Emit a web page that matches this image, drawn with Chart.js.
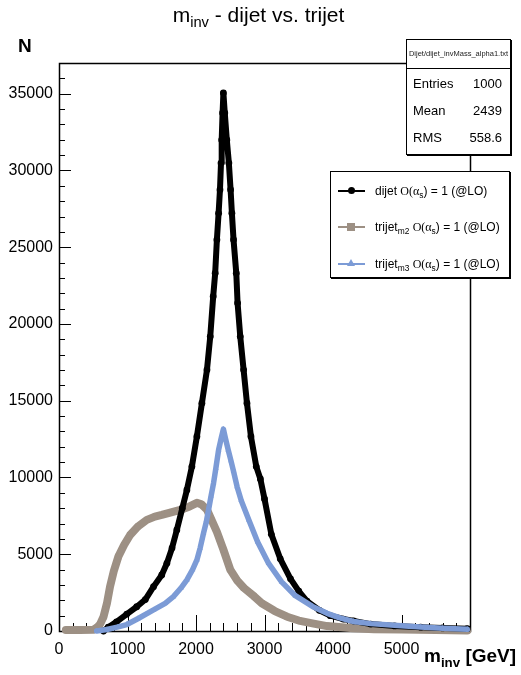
<!DOCTYPE html>
<html>
<head>
<meta charset="utf-8">
<title>m_inv - dijet vs. trijet</title>
<script src="https://cdn.jsdelivr.net/npm/chart.js@4.4.1/dist/chart.umd.min.js"></script>
<style>
  html, body { margin: 0; padding: 0; background: #fff; }
  body { width: 521px; height: 675px; position: relative; overflow: hidden;
         font-family: "Liberation Sans", Arial, Helvetica, sans-serif; color: #000; }
  #plot { position: absolute; left: 0; top: 0; }
  .txt { position: absolute; white-space: nowrap; }
  .serif { font-family: "Liberation Serif", "Times New Roman", serif; }
  sub { font-size: 70%; vertical-align: -0.35em; line-height: 0; }
  #title { left: 0; top: 3px; width: 517px; text-align: center; font-size: 21px; line-height: 24px; }
  #ytitle { left: 18px; top: 36px; font-size: 19px; line-height: 19px; font-weight: bold; }
  #xtitle { left: 424px; top: 646px; font-size: 19px; line-height: 20px; font-weight: bold; }
  .box { position: absolute; background: #fff; border: 1px solid #000; box-shadow: 1px 1px 0 #000; z-index: 2; }
  #stats { left: 406px; top: 39px; width: 103px; height: 114px; }
  #stats .head { position: absolute; left: 0; top: 0; width: 103px; height: 28px; border-bottom: 1px solid #000;
                 font-size: 7.5px; line-height: 28px; text-align: center; color: #222; }
  #stats .row { position: absolute; left: 6px; width: 89px; font-size: 13px; line-height: 16px; }
  #stats .row span { position: absolute; right: 0; }
  #legend { left: 330px; top: 171px; width: 178px; height: 105px; }
  .entry { position: absolute; left: 0; height: 20px; width: 178px; }
  .entry .line { position: absolute; left: 7px; top: 9px; width: 27px; height: 2px; }
  .entry .mark { position: absolute; }
  .entry .label { position: absolute; left: 44px; top: 2px; font-size: 12px; line-height: 16px; }
</style>
</head>
<body>
<canvas id="plot" width="521" height="675"></canvas>

<div class="txt" id="title">m<sub>inv</sub> - dijet vs. trijet</div>
<div class="txt" id="ytitle">N</div>
<div class="txt" id="xtitle">m<sub>inv</sub> [GeV]</div>

<div class="box" id="stats">
  <div class="head">Dijet/dijet_invMass_alpha1.txt</div>
  <div class="row" style="top:36px">Entries<span>1000</span></div>
  <div class="row" style="top:63px">Mean<span>2439</span></div>
  <div class="row" style="top:90px">RMS<span>558.6</span></div>
</div>

<div class="box" id="legend">
  <div class="entry" style="top:9px">
    <div class="line" style="background:#000"></div>
    <div class="mark" style="left:17px;top:6px;width:7px;height:7px;border-radius:50%;background:#000"></div>
    <div class="label">dijet <span class="serif">O(α</span><sub>s</sub>) = 1 (@LO)</div>
  </div>
  <div class="entry" style="top:45px">
    <div class="line" style="background:#9d9084"></div>
    <div class="mark" style="left:16px;top:6px;width:8px;height:8px;background:#9d9084"></div>
    <div class="label">trijet<sub>m2</sub> <span class="serif">O(α</span><sub>s</sub>) = 1 (@LO)</div>
  </div>
  <div class="entry" style="top:82px">
    <div class="line" style="background:#7c9bd6"></div>
    <div class="mark" style="left:16px;top:5px;width:0;height:0;border-left:4px solid transparent;border-right:4px solid transparent;border-bottom:7px solid #7c9bd6"></div>
    <div class="label">trijet<sub>m3</sub> <span class="serif">O(α</span><sub>s</sub>) = 1 (@LO)</div>
  </div>
</div>

<script>
// invariant mass spectra, m_inv in GeV, entries per bin
const dijetMass   = [650, 720, 840, 990, 1135, 1260, 1380, 1500, 1575, 1650, 1720, 1800, 1867, 1940, 2013, 2086, 2160, 2208, 2251, 2280, 2305, 2330, 2350, 2365, 2375, 2388, 2400, 2420, 2450, 2480, 2505, 2524, 2548, 2588, 2607, 2646, 2695, 2744, 2802, 2880, 2940, 3000, 3100, 3230, 3380, 3500, 3620, 3800, 3960, 4150, 4300, 4550, 4900, 5280, 5600, 5960];
const dijetCounts = [0, 250, 600, 1100, 1580, 2050, 2890, 3650, 4410, 5400, 6580, 8000, 9190, 10710, 12670, 14840, 17010, 19180, 21790, 23310, 25490, 27220, 28750, 30480, 31990, 33750, 35050, 33750, 31990, 30480, 28750, 27220, 25490, 23310, 21360, 19180, 17010, 14840, 12670, 10710, 9900, 8600, 6300, 4700, 3400, 2600, 1950, 1350, 1000, 780, 650, 450, 330, 250, 200, 150];

const trijetM2Mass   = [100, 300, 500, 560, 600, 650, 700, 745, 800, 867, 950, 1038, 1150, 1282, 1400, 1500, 1650, 1770, 1900, 2013, 2080, 2160, 2230, 2305, 2400, 2500, 2600, 2700, 2850, 2960, 3150, 3330, 3500, 3718, 3913, 4300, 4600, 5000, 5500, 5960];
const trijetM2Counts = [60, 60, 80, 250, 450, 930, 1800, 2890, 3900, 4850, 5600, 6250, 6800, 7240, 7450, 7560, 7750, 7890, 8100, 8350, 8250, 7900, 7200, 6450, 5300, 4000, 3300, 2800, 2250, 1810, 1300, 930, 680, 480, 320, 180, 120, 90, 60, 40];

const trijetM3Mass   = [550, 700, 850, 990, 1150, 1380, 1550, 1670, 1780, 1867, 1950, 2013, 2060, 2110, 2150, 2183, 2220, 2256, 2290, 2330, 2370, 2400, 2430, 2470, 2510, 2548, 2600, 2660, 2770, 2900, 3060, 3250, 3450, 3700, 3913, 4100, 4300, 4550, 5000, 5280, 5600, 5960];
const trijetM3Counts = [0, 100, 250, 420, 800, 1370, 1800, 2240, 2800, 3330, 4000, 4630, 5400, 6370, 7100, 7890, 8800, 9630, 10600, 11800, 12600, 13150, 12550, 11800, 11100, 10400, 9400, 8500, 7240, 5800, 4400, 3200, 2300, 1600, 1150, 850, 620, 480, 340, 260, 180, 110];

const xTickValues = [0, 1000, 2000, 3000, 4000, 5000, 6000];
const xTickLabels = ['0', '1000', '2000', '3000', '4000', '5000', ''];
const yTickValues = [0, 5000, 10000, 15000, 20000, 25000, 30000, 35000];

const toPoints = (xs, ys) => xs.map((x, i) => ({ x: x, y: ys[i] }));

// ROOT-like frame: inward major/minor ticks on the left and bottom axes
const frameTicks = {
  id: 'frameTicks',
  beforeDatasetsDraw(chart) {
    const { ctx, chartArea: a, scales: { x, y } } = chart;
    ctx.save();
    ctx.strokeStyle = '#000';
    ctx.lineWidth = 1;
    ctx.beginPath();
    for (let v = 0; v <= 6000; v += 200) {
      const px = Math.round(x.getPixelForValue(v)) + 0.5;
      const len = v % 1000 === 0 ? 16 : 8;
      ctx.moveTo(px, a.bottom);
      ctx.lineTo(px, a.bottom - len);
    }
    for (let v = 0; v <= 37000; v += 1000) {
      const py = Math.round(y.getPixelForValue(v)) + 0.5;
      const len = v % 5000 === 0 ? 12 : 6;
      ctx.moveTo(a.left, py);
      ctx.lineTo(a.left + len, py);
    }
    ctx.stroke();
    ctx.lineWidth = 1.5;
    ctx.strokeRect(a.left + 0.5, a.top + 0.5, a.right - a.left, a.bottom - a.top);
    ctx.restore();
  }
};

const tickFont = { family: '"Liberation Sans", Arial, sans-serif', size: 16 };

new Chart(document.getElementById('plot'), {
  type: 'line',
  data: {
    datasets: [
      {
        label: 'dijet',
        data: toPoints(dijetMass, dijetCounts),
        borderColor: '#000',
        backgroundColor: '#000',
        borderWidth: 6,
        pointStyle: 'circle',
        pointRadius: 3.4,
        pointBorderWidth: 0,
        order: 2
      },
      {
        label: 'trijet m2',
        data: toPoints(trijetM2Mass, trijetM2Counts),
        borderColor: '#9d9084',
        backgroundColor: '#9d9084',
        borderWidth: 8,
        pointStyle: 'rect',
        pointRadius: 4,
        pointBorderWidth: 0,
        order: 3
      },
      {
        label: 'trijet m3',
        data: toPoints(trijetM3Mass, trijetM3Counts),
        borderColor: '#7c9bd6',
        backgroundColor: '#7c9bd6',
        borderWidth: 5.5,
        pointStyle: 'triangle',
        pointRadius: 3.2,
        pointBorderWidth: 0,
        order: 1
      }
    ]
  },
  options: {
    responsive: false,
    animation: false,
    clip: false,
    layout: { padding: { left: 0, top: 63, right: 51, bottom: 0 } },
    elements: { line: { tension: 0, fill: false, borderJoinStyle: 'round', borderCapStyle: 'round' } },
    plugins: { legend: { display: false }, tooltip: { enabled: false }, title: { display: false } },
    scales: {
      x: {
        type: 'linear',
        min: 0,
        max: 6000,
        afterFit: s => { s.height = 44; },
        afterBuildTicks: s => { s.ticks = xTickValues.map(v => ({ value: v })); },
        grid: { display: false, drawTicks: false },
        border: { display: false },
        ticks: {
          color: '#000',
          font: tickFont,
          padding: 9,
          maxRotation: 0,
          autoSkip: false,
          callback: (v) => xTickLabels[xTickValues.indexOf(v)]
        }
      },
      y: {
        type: 'linear',
        min: 0,
        max: 37000,
        afterFit: s => { s.width = 59; },
        afterBuildTicks: s => { s.ticks = yTickValues.map(v => ({ value: v })); },
        grid: { display: false, drawTicks: false },
        border: { display: false },
        ticks: {
          color: '#000',
          font: tickFont,
          padding: 6,
          autoSkip: false,
          callback: (v) => String(v)
        }
      }
    }
  },
  plugins: [frameTicks]
});
</script>
</body>
</html>
